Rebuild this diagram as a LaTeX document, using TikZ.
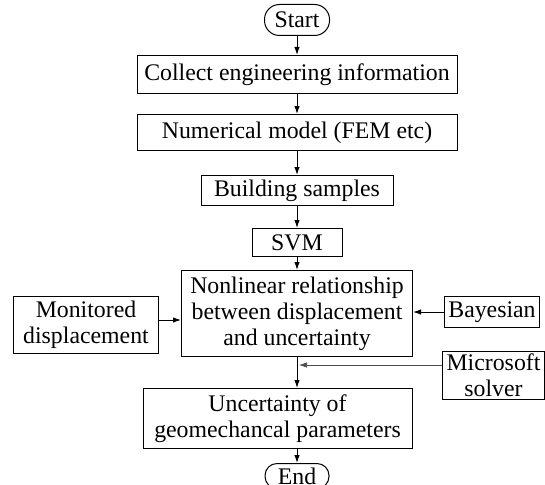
\documentclass[tikz,border=0pt]{standalone}
\usepackage{fontspec}
\setmainfont{Liberation Serif}
\usepackage{tikz}
\usetikzlibrary{arrows.meta, positioning}

\begin{document}
\begin{tikzpicture}[
    x=1pt, y=1pt,
    node distance=20pt,
    box/.style={rectangle, draw, line width=1pt, inner sep=1pt, align=center, font=\fontsize{23.8}{26}\selectfont},
    term/.style={box, rounded corners=15pt, minimum width=65pt, minimum height=31pt},
    arrow/.style={-{Latex[length=8pt,width=5.5pt]}, line width=1pt},
    thinarrow/.style={-{Latex[length=8pt,width=5.5pt]}, line width=0.6pt, draw=black!70}
]
    \useasboundingbox (0,0) rectangle (545,-484);
    \node[term] (start) at (297,-20) {Start};
    \node[box, below=19pt of start, minimum width=320pt, minimum height=38pt] (collect) {Collect engineering information};
    \node[box, below=20pt of collect, minimum width=320pt, minimum height=36pt] (numer) {Numerical model (FEM etc)};
    \node[box, below=24pt of numer, minimum width=192pt, minimum height=30pt] (samples) {Building samples};
    \node[box, below=22pt of samples, minimum width=90pt, minimum height=28pt] (svm) {SVM};
    \node[box, below=13pt of svm, minimum width=231pt, minimum height=86pt] (nonlin) {Nonlinear relationship\\between displacement\\and uncertainty};
    \node[box, left=22pt of nonlin, yshift=-11pt, minimum width=145pt, minimum height=57pt] (monit) {Monitored\\displacement};
    \node[box, right=31pt of nonlin, yshift=1.5pt, minimum width=95pt, minimum height=31pt] (bayes) {Bayesian};
    \node[box, right=29pt of nonlin, yshift=-62pt, minimum width=102pt, minimum height=48pt] (micro) {Microsoft\\solver};
    \node[box, below=31pt of nonlin, xshift=-19.5pt, minimum width=269pt, minimum height=60pt] (unc) {Uncertainty of\\geomechancal parameters};
    \node[term, below=14pt of unc.south -| nonlin.south, minimum width=64pt, minimum height=25pt, rounded corners=12pt] (end) {End};
    \coordinate (mtip) at (299,-365);

    \draw[arrow] (start) -- (collect);
    \draw[arrow] (collect) -- (numer);
    \draw[arrow] (numer) -- (samples);
    \draw[arrow] (samples) -- (svm);
    \draw[arrow] (svm) -- (nonlin);
    \draw[arrow] (monit.east |- 0,-320) -- (nonlin.west |- 0,-320);
    \draw[arrow] (bayes) -- (bayes -| nonlin.east);
    \draw[arrow] (nonlin.south) -- (nonlin.south |- unc.north);
    \draw[thinarrow] (micro.west |- mtip) -- (mtip);
    \draw[arrow] (end.north |- unc.south) -- (end);
\end{tikzpicture}
\end{document}
